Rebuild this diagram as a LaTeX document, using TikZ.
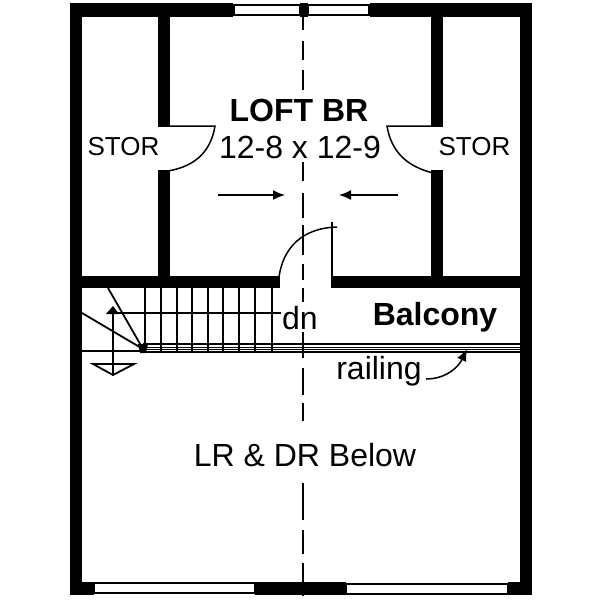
\documentclass[tikz,border=0pt]{standalone}
\usepackage{fontspec}
\setmainfont{Liberation Sans}
\usetikzlibrary{arrows.meta}
\tikzset{
  wall/.style={fill=black,draw=none},
  glass/.style={draw=black,line width=1.7pt,fill=white},
  thin/.style={draw=black,line width=1.5pt},
  tread/.style={draw=black,line width=1.8pt},
  rail/.style={draw=black,line width=1.2pt},
  centreline/.style={draw=black,line width=1.5pt},
  label/.style={inner sep=0pt,anchor=center,text=black},
  pointer/.style={draw=black,line width=1.5pt,-{Latex[length=12pt,width=10pt]}}
}
\newcommand{\fs}[1]{\fontsize{#1}{#1}\selectfont}
\begin{document}
\begin{tikzpicture}[x=1pt,y=-1pt]
\useasboundingbox[fill=white] (0,0) rectangle (600,600);
% outer walls
\fill[wall] (70,3) rectangle (82,595);
\fill[wall] (520,3) rectangle (532,595);
\fill[wall] (70,3) rectangle (233,17);
\fill[wall] (370,3) rectangle (532,17);
\draw[glass] (234,5) rectangle (300,15);
\draw[glass] (308,5) rectangle (369,15);
\fill[wall] (300,3) rectangle (308,17);
\fill[wall] (70,582) rectangle (94,595);
\draw[glass] (94,583) rectangle (255,593);
\draw[glass] (346,584) rectangle (508,594);
\fill[wall] (255,582) rectangle (346,595);
\fill[wall] (508,582) rectangle (532,595);
% inner walls
\fill[wall] (158,17) rectangle (170,127);
\fill[wall] (158,170) rectangle (170,277);
\fill[wall] (431,17) rectangle (443,127);
\fill[wall] (431,170) rectangle (443,277);
\fill[wall] (70,276) rectangle (280,288);
\fill[wall] (331,276) rectangle (532,288);
% doors
\draw[thin] (170,126) -- (215,126) .. controls (211,150) and (197,166) .. (168,171);
\draw[thin] (431,126) -- (387,126) .. controls (391,150) and (405,166) .. (433,173);
\draw[thin] (332,277) -- (332,222);
\draw[thin] (279,277) .. controls (283,248) and (302,228) .. (337,227);
% stairs
\foreach \px in {145,161,177,192,208,223,239,255,272}
  \draw[tread] (\px,288) -- (\px,353);
\draw[tread] (107,313) -- (281,313);
\draw[tread] (108,288) -- (143,349);
\draw[tread] (82,313) -- (143,349);
\draw[rail] (82,351) -- (143,351);
\draw[rail,line width=1.6pt] (143,344) -- (520,344);
\draw[rail,line width=.7pt] (143,347) -- (520,347);
\draw[rail,line width=.7pt] (143,349.5) -- (520,349.5);
\draw[rail,line width=1.6pt] (143,352) -- (520,352);
\fill (138,344) -- (148,344) -- (146,353) -- (140,353) -- cycle;
\draw[tread] (113,375) -- (113,314);
\fill (113,306) -- (119,314) -- (106,314) -- cycle;
\draw[tread] (93,364) -- (134,364) -- (113,375) -- cycle;
% centre line
\foreach \ya/\yb in {17/30,41/60,70/90,162/181,193/218,225/255,264/280,288/302,332/358,368/395,403/421,483/520,530/554,563/596}
  \draw[centreline] (303,\ya) -- (303,\yb);
% arrows
\coordinate (la) at (218,195); \coordinate (lb) at (285,195);
\coordinate (ra) at (398,195); \coordinate (rb) at (339,195);
\draw[pointer] (la) -- (lb);
\draw[pointer] (ra) -- (rb);
% labels
\node[label,font=\bfseries\fs{32}] (loft) at (299,110) {LOFT BR};
\node[label,font=\fs{32}] (size) at (300,147) {12-8 x 12-9};
\node[label,font=\fs{26}] (storl) at (123.5,147) {STOR};
\node[label,font=\fs{26}] (storr) at (474.5,147) {STOR};
\node[label,font=\fs{32}] (dn) at (300,318) {dn};
\node[label,font=\bfseries\fs{32}] (balc) at (435,317) {Balcony};
\node[label,font=\fs{32}] (railing) at (379,371) {railing};
\node[label,font=\fs{32}] (below) at (305,455) {LR \& DR Below};
\coordinate (railstart) at (426,379);
\coordinate (railtip) at (467,349);
\draw[pointer] (railstart) .. controls (445,379) and (458,368) .. (railtip);
\end{tikzpicture}
\end{document}
